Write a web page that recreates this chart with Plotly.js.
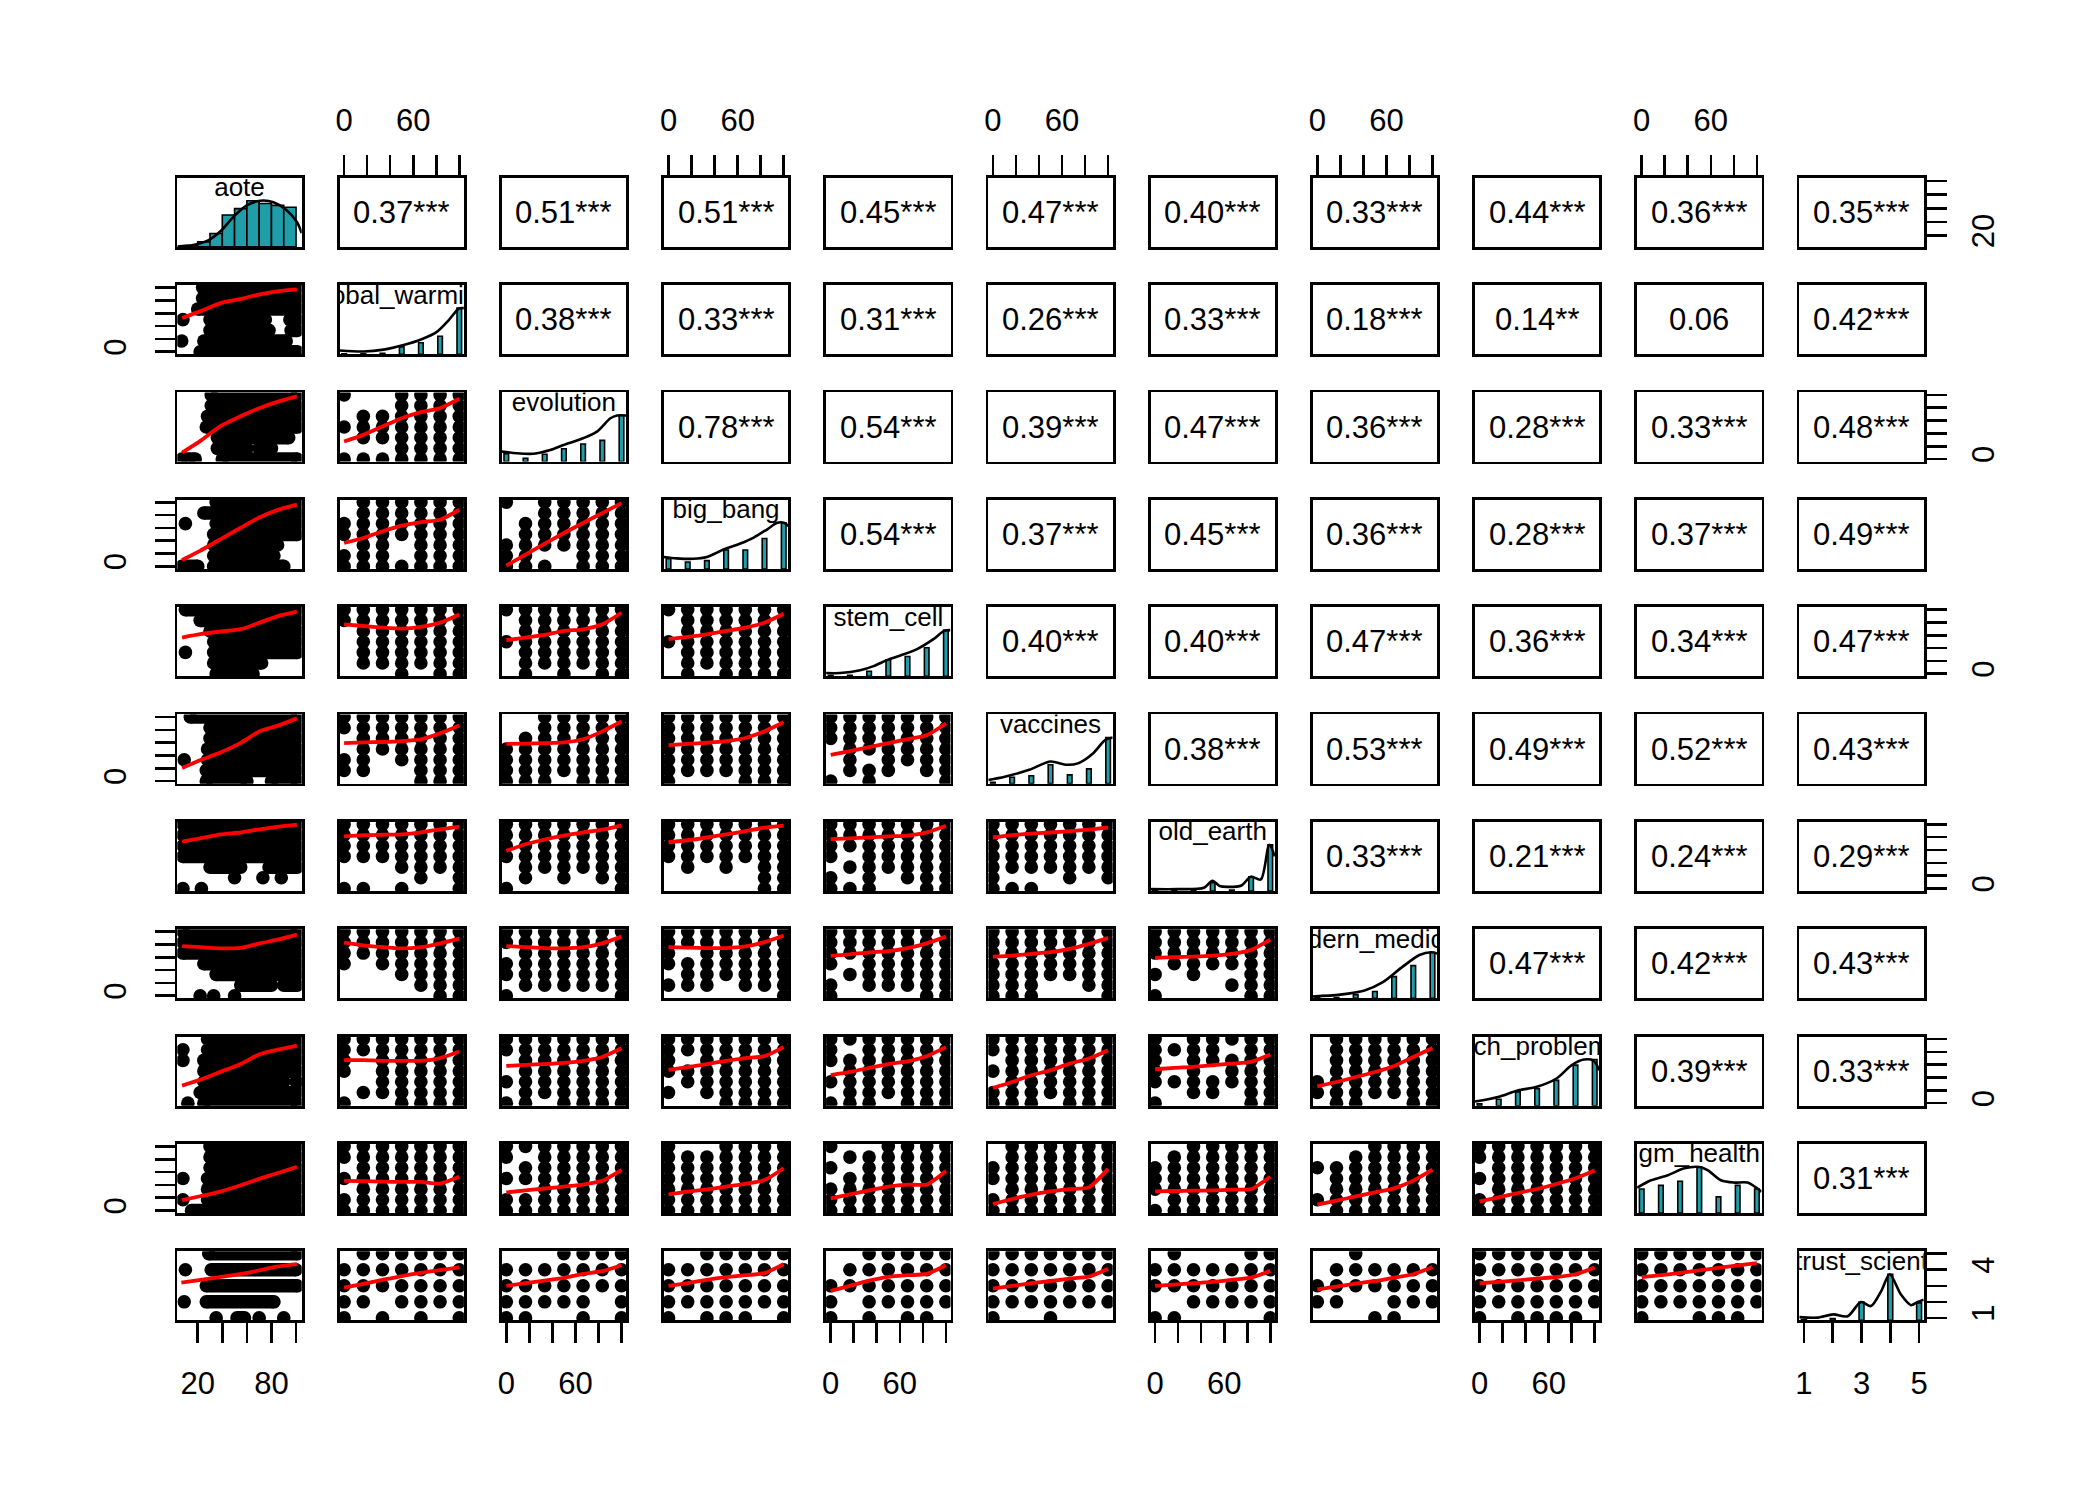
<!DOCTYPE html>
<html><head><meta charset="utf-8">
<script src="https://cdn.plot.ly/plotly-3.0.1.min.js"></script>
<style>html,body{margin:0;padding:0;background:#fff}</style>
</head><body><div id="chart" style="width:2100px;height:1500px"></div>
<script>
// ---------------- DATA ----------------
const varNames = ["aote","global_warming","evolution","big_bang","stem_cell","vaccines","old_earth","modern_medicine","tech_problems","gm_health","trust_scient"];
const levels7 = [0, 16.67, 33.33, 50, 66.67, 83.33, 100];
const levels5 = [1, 2, 3, 4, 5];
const rangeAote = [3.4, 104.6];
const range100 = [-4, 104];
const rangeTrust = [0.84, 5.16];

// tick values / labels
const ticksAote = [20, 40, 60, 80, 100];
const labelsAoteH = ["20", "", "", "80", ""];
const labelsAoteV = ["20", "", "", "", ""];
const ticks100 = [0, 20, 40, 60, 80, 100];
const labels100H = ["0", "", "", "60", "", ""];
const labels100V = ["0", "", "", "", "", ""];
const ticksTrust = [1, 2, 3, 4, 5];
const labelsTrustH = ["1", "", "3", "", "5"];
const labelsTrustV = ["1", "", "", "4", ""];

// correlations (upper triangle), per row
const cor_aote = ["0.37***","0.51***","0.51***","0.45***","0.47***","0.40***","0.33***","0.44***","0.36***","0.35***"];
const cor_global_warming = ["0.38***","0.33***","0.31***","0.26***","0.33***","0.18***","0.14**","0.06","0.42***"];
const cor_evolution = ["0.78***","0.54***","0.39***","0.47***","0.36***","0.28***","0.33***","0.48***"];
const cor_big_bang = ["0.54***","0.37***","0.45***","0.36***","0.28***","0.37***","0.49***"];
const cor_stem_cell = ["0.40***","0.40***","0.47***","0.36***","0.34***","0.47***"];
const cor_vaccines = ["0.38***","0.53***","0.49***","0.52***","0.43***"];
const cor_old_earth = ["0.33***","0.21***","0.24***","0.29***"];
const cor_modern_medicine = ["0.47***","0.42***","0.43***"];
const cor_tech_problems = ["0.39***","0.33***"];
const cor_gm_health = ["0.31***"];

// histograms (relative heights, max = 1) and density curves (relative, max = 1)
const histAote_x = [15, 25, 35, 45, 55, 65, 75, 85, 95];
const histAote_h = [0.03, 0.11, 0.29, 0.69, 0.83, 1.0, 0.94, 0.9, 0.86];
const densAote_x = [3.4, 16.3, 28.5, 39.4, 49, 59.9, 70.8, 81.6, 91.2, 100.7, 104.6];
const densAote_y = [0.01, 0.04, 0.14, 0.36, 0.65, 0.9, 1.0, 0.97, 0.82, 0.54, 0.3];

const hist_global_warming = [0.01, 0.01, 0.02, 0.16, 0.25, 0.39, 1.0];
const dens_global_warming_x = [-4, 16.9, 34.3, 51.7, 66.8, 80.8, 90.9, 99.6, 104];
const dens_global_warming_y = [0.08, 0.06, 0.1, 0.2, 0.32, 0.49, 0.74, 0.99, 1.0];
const hist_evolution = [0.17, 0.07, 0.16, 0.28, 0.38, 0.46, 1.0];
const dens_evolution_x = [-4, 9.1, 23.6, 38.1, 49.7, 67.1, 78.7, 90.4, 96.2, 104];
const dens_evolution_y = [0.22, 0.18, 0.17, 0.25, 0.36, 0.51, 0.65, 0.94, 1.0, 1.0];
const hist_big_bang = [0.22, 0.15, 0.18, 0.41, 0.41, 0.66, 1.0];
const dens_big_bang_x = [-4, 7.1, 21.6, 33.3, 47.8, 62.4, 74, 85.7, 94.4, 100.2, 104];
const dens_big_bang_y = [0.26, 0.23, 0.22, 0.26, 0.42, 0.55, 0.68, 0.86, 1.0, 1.0, 0.93];
const hist_stem_cell = [0.02, 0.02, 0.11, 0.36, 0.43, 0.62, 1.0];
const dens_stem_cell_x = [-4, 8.2, 25.6, 37.2, 48.8, 60.5, 75, 89.5, 98.2, 104];
const dens_stem_cell_y = [0.07, 0.07, 0.13, 0.22, 0.35, 0.45, 0.59, 0.81, 0.98, 1.0];
const hist_vaccines = [0.03, 0.14, 0.17, 0.41, 0.19, 0.32, 1.0];
const dens_vaccines_x = [-4, 10.3, 31.5, 50, 63.2, 73.8, 87.1, 97.6, 104];
const dens_vaccines_y = [0.08, 0.15, 0.3, 0.48, 0.41, 0.44, 0.66, 0.95, 1.0];
const hist_old_earth = [0.01, 0.01, 0.02, 0.18, 0.02, 0.31, 1.0];
const dens_old_earth_x = [-4, 20, 42.5, 49.7, 56, 62.8, 75, 83.1, 91.8, 99.1, 104];
const dens_old_earth_y = [0.04, 0.04, 0.07, 0.22, 0.11, 0.09, 0.12, 0.31, 0.25, 1.0, 0.75];
const hist_modern_medicine = [0.01, 0.02, 0.08, 0.15, 0.47, 0.71, 1.0];
const dens_modern_medicine_x = [-4, 19.8, 41, 56.9, 72.8, 88.6, 99.2, 104];
const dens_modern_medicine_y = [0.04, 0.08, 0.17, 0.35, 0.66, 0.94, 1.0, 0.97];
const hist_tech_problems = [0.04, 0.14, 0.3, 0.37, 0.55, 0.88, 1.0];
const dens_tech_problems_x = [-4, 16.2, 33.2, 49.7, 66.8, 80.1, 90.7, 98.7, 104];
const dens_tech_problems_y = [0.09, 0.19, 0.33, 0.41, 0.59, 0.88, 1.0, 0.98, 0.77];
const hist_gm_health = [0.52, 0.6, 0.69, 1.0, 0.35, 0.6, 0.52];
const dens_gm_health_x = [-4, 8.1, 22.6, 37, 50, 57.2, 68.8, 80.3, 91.9, 104];
const dens_gm_health_y = [0.55, 0.71, 0.82, 0.97, 1.0, 0.93, 0.71, 0.66, 0.66, 0.46];
const hist_trust_science = [0.02, 0.04, 0.4, 1.0, 0.38];
const dens_trust_science_x = [0.84, 1.48, 2.02, 2.52, 2.98, 3.33, 3.68, 3.98, 4.37, 4.72, 4.95, 5.16];
const dens_trust_science_y = [0.07, 0.06, 0.13, 0.09, 0.4, 0.31, 0.63, 1.0, 0.56, 0.33, 0.4, 0.45];

// aote column: occupied aote ranges per level (top level first)
const seg_global_warming = [[[24,101]],[[24,101]],[[20,101]],[[8,8],[30,75],[95,101]],[[30,78],[96,101]],[[7,7],[25,65],[70,92]],[[22,101]]];
const seg_evolution = [[[31,101]],[[31,101]],[[28,101]],[[27,101]],[[36,94]],[[36,60],[70,80]],[[7,18],[40,101]]];
const seg_big_bang = [[[35,101]],[[25,101]],[[10,10],[35,101]],[[33,101]],[[33,85]],[[33,82]],[[7,20],[33,90]]];
const seg_stem_cell = [[[10,101]],[[22,101]],[[30,101]],[[33,101]],[[10,10],[33,101]],[[33,72]],[[35,65]]];
const seg_vaccines = [[[14,101]],[[30,101]],[[30,101]],[[28,101]],[[9,9],[28,101]],[[27,101]],[[27,60],[80,101]]];
const seg_old_earth = [[[8,101]],[[8,101]],[[8,101]],[[8,101]],[[30,55],[78,101]],[[50,50],[73,73],[88,88]],[[8,8],[23,23]]];
const seg_modern_medicine = [[[8,101]],[[8,101]],[[8,101]],[[25,101]],[[35,101]],[[55,80],[90,101]],[[22,22],[33,33],[50,50]]];
const seg_tech_problems = [[[28,101]],[[8,8],[28,101]],[[8,8],[25,101]],[[25,101]],[[25,90],[100,101]],[[22,101]],[[12,12],[25,101]]];
const seg_gm_health = [[[30,101]],[[30,101]],[[30,101]],[[8,8],[28,101]],[[28,101]],[[8,8],[28,101]],[[15,30],[35,101]]];
const seg_trust_science = [[[29,101]],[[10,10],[31,100]],[[27,101]],[[9,9],[27,82]],[[35,35],[52,58],[70,70],[90,90]]];

// discrete panels: occupied cells (rows = y level from top, chars = x level from left)
const grid_evolution = [
  ["1001111","0001111","0111111","1111111","0111111","0001111","1111111"]];
const grid_big_bang = [
  ["0111111","0111111","1111111","1111111","0110111","1110111","1111111"],
  ["1011111","0011111","0111111","0111111","1111111","1100111","1110111"]];
const grid_stem_cell = [
  ["1111111","1111111","0111111","0111111","0111111","0111111","0001011"],
  ["1111111","0111111","0111111","1111111","0111111","0111111","0101011"],
  ["1111111","0111111","0111111","1111111","0111111","0111111","0101111"]];
const grid_vaccines = [
  ["1111111","1111111","0111111","0111111","1101111","1100111","0000111"],
  ["0011111","0011111","0111111","1111111","1111111","1111111","1110111"],
  ["1111111","1111111","1111111","1111111","1111111","1111111","1000111"],
  ["1111111","1111111","1111111","0111111","0101111","0111011","1010001"]];
const grid_old_earth = [
  ["1111111","1111111","1111111","1111111","0001111","0000101","1101001"],
  ["1111111","1111111","1111111","1111111","0111111","0101011","1000001"],
  ["1111111","1111111","1111111","1111111","0101011","0000011","0000011"],
  ["1111111","1111111","1111111","1011111","0111111","1010111","1110011"],
  ["1111111","1111111","1111111","1111111","1111111","1000101","1110000"]];
const grid_modern_medicine = [
  ["1111111","1111111","1111111","1011111","0001111","0000111","0000011"],
  ["1111111","1111111","0111111","1111111","1111111","0111111","1000001"],
  ["1111111","1111111","1011111","1111111","0111111","1110111","0000001"],
  ["1111111","1111111","1111111","1011111","0111111","1011111","1000011"],
  ["1111111","1111111","1111111","1111111","1111111","1110011","1110001"],
  ["1111111","1111111","1111111","0111111","1010011","0000111","1000011"]];
const grid_tech_problems = [
  ["1111111","1111111","1011111","1011111","0011111","0111111","1001111"],
  ["1111111","1111111","0111111","0111111","1111111","0111111","1101111"],
  ["1111111","1111111","1011111","1111111","0111111","1011111","0001111"],
  ["1111111","1011111","1111111","0111111","1111111","0111111","1110111"],
  ["1111111","1111111","0111111","1111111","0111111","1111111","1110111"],
  ["1011111","1111011","1011111","1010111","1111111","0011011","1000011"],
  ["0111111","0111111","0111111","0111111","1111111","1111111","0110011"]];
const grid_gm_health = [
  ["1111111","1111111","0111111","1111111","0111111","1111111","1111111"],
  ["1111111","1011111","0111111","1111111","0011111","1111111","1111111"],
  ["1001111","1111111","1111111","1111111","1111111","1111111","1111111"],
  ["1001111","0111111","1011111","0111111","1111111","1111111","1111111"],
  ["0111111","0111111","1111111","1111111","0111111","1111111","1111111"],
  ["0011111","0111111","1111111","1111111","1111111","0111111","1111111"],
  ["0001111","0011111","1111111","0111111","0111111","1111111","0111111"],
  ["1111111","1111111","0111111","1111111","0111111","1111111","1111111"]];
const grid_trust_science = [
  ["0111111","1111111","1111111","1101111","1010101"],
  ["0001111","1111111","1111111","1111101","1100101"],
  ["0011111","1111111","1111111","1111111","1011101"],
  ["0011111","0111111","1111111","1011111","1010110"],
  ["1111111","1111111","1111111","1111111","1001000"],
  ["0100011","1111111","1111111","0011111","1100001"],
  ["0010000","0111111","1111111","1100111","0001100"],
  ["1111111","1111111","1111111","1111111","1011110"],
  ["1111111","1111111","1111111","1111111","1001110"]];

// loess smooths
const loessAote_x = [7.3, 21.9, 38.5, 55, 70.5, 86, 100.7];
const loessAote_global_warming = [52.6, 62.9, 75.7, 82.4, 89.6, 94.7, 97.3];
const loessAote_evolution = [10, 28, 51.3, 66.8, 79.7, 90, 97.8];
const loessAote_big_bang = [9.9, 24.3, 42.3, 60.3, 76.7, 88.6, 96.3];
const loessAote_stem_cell = [56.5, 61.7, 65.8, 69.5, 79.8, 90.2, 96.8];
const loessAote_vaccines = [20.3, 32.4, 44.5, 59.7, 77.9, 87, 97.9];
const loessAote_old_earth = [73.1, 78.1, 84.3, 87.3, 92.3, 96.6, 99.7];
const loessAote_modern_medicine = [77.6, 75.8, 74, 74.6, 81.9, 88, 95.4];
const loessAote_tech_problems = [27.3, 36.5, 48.8, 61.1, 76.4, 83.8, 89.9];
const loessAote_gm_health = [16.1, 22.2, 29.5, 39.3, 49.7, 58.8, 68];
const loessAoteTrust_x = [6.7, 35.3, 62.6, 84.4, 100.7];
const loessAote_trust_science = [3.2, 3.51, 3.84, 4.19, 4.35];

const loess_evolution = [[27.3, 37.7, 50.8, 63.8, 73.2, 79.5, 94.1]];
const loess_big_bang = [[36.5, 44.3, 54.7, 63.5, 69.2, 72.8, 88.4],[1.2, 18.3, 35.5, 52.1, 67.7, 83.2, 98.8]];
const loess_stem_cell = [[77.1, 74.5, 72, 70.4, 73, 79.7, 92.6],[52.3, 56.5, 60.6, 66.8, 69.4, 77.1, 95.2],[53.9, 57.5, 61.6, 66.8, 72, 79.7, 93.7]];
const loess_vaccines = [[59.2, 60.4, 61, 62.3, 65.3, 74.5, 86.8],[58, 58.6, 59.2, 60.4, 65.3, 77.6, 93],[56.1, 58, 59.8, 62.3, 67.2, 77.6, 91.7],[40.8, 46.9, 53.1, 59.2, 65.3, 71.5, 89.9]];
const loess_old_earth = [[81.3, 83.1, 83.8, 84.4, 87.4, 92.3, 96.6],[58.6, 69, 76.4, 82.5, 87.4, 91.7, 98.5],[72.1, 75.2, 79.5, 84.4, 89.3, 94.8, 97.9],[77, 78.2, 79.5, 81.3, 82.5, 87.4, 97.9],[79.5, 83.1, 85.7, 87.3, 89.4, 91.9, 95.1]];
const loess_modern_medicine = [[83.1, 78.8, 75.8, 73.9, 75.8, 81.9, 89.3],[77.6, 75.8, 74.5, 73.9, 75.8, 81.9, 92.3],[75.8, 75.2, 74.5, 74.5, 77, 83.8, 94.2],[62.3, 64.7, 67.8, 69.6, 74.5, 81.9, 92.3],[61.2, 62.8, 65.4, 68, 73.2, 81, 90.4],[59.1, 60.2, 61.2, 62.8, 65.4, 71.7, 87.8]];
const loess_tech_problems = [[67.2, 67.2, 66, 66, 66, 70.3, 80.7],[58, 59.8, 61, 62.9, 66, 72.1, 85.6],[51.8, 56.1, 61, 66, 70.3, 73.3, 87.4],[43.9, 48.8, 54.9, 61, 65.3, 73.3, 87.4],[23.6, 33, 43.5, 51.3, 61.7, 69.6, 82.6],[52.9, 55, 56.6, 59.2, 61.7, 64.4, 75.8],[26.2, 33, 40.8, 48.6, 58, 72.1, 86.2]];
const loess_gm_health = [[46.3, 45.8, 45.1, 44.5, 44.5, 42, 52.5],[28.2, 31.3, 34.3, 37.4, 40.5, 46.3, 63.5],[25.2, 29.5, 32.9, 37.4, 41.6, 47.5, 66],[19, 25.2, 31.3, 37.4, 40.5, 40.5, 61.7],[10.1, 17.9, 24.7, 29.9, 33.5, 36.1, 64.9],[29.9, 30.4, 30.9, 31.4, 32.5, 33.5, 52.8],[9.1, 15.3, 22.1, 28.4, 34.6, 46.6, 63.8],[14.3, 20.5, 27.3, 33.5, 41.4, 50.2, 62.3]];
const loess_trust_science = [[2.88, 3.12, 3.37, 3.61, 3.81, 3.98, 4.15],[3.0, 3.17, 3.32, 3.49, 3.74, 3.91, 4.28],[3.0, 3.17, 3.37, 3.54, 3.66, 3.79, 4.35],[2.68, 3.0, 3.32, 3.56, 3.66, 3.74, 4.28],[2.82, 2.99, 3.16, 3.3, 3.45, 3.57, 4.07],[2.99, 3.07, 3.16, 3.24, 3.37, 3.51, 3.93],[2.78, 2.95, 3.14, 3.3, 3.51, 3.72, 4.18],[3.16, 3.24, 3.34, 3.45, 3.55, 3.72, 4.14],[3.54, 3.66, 3.81, 3.96, 4.12, 4.27, 4.41]];

// ---------------- ASSEMBLY ----------------
const N = varNames.length;
const ranges = varNames.map((v, i) => i === 0 ? rangeAote : (i === N - 1 ? rangeTrust : range100));
const corRows = [cor_aote, cor_global_warming, cor_evolution, cor_big_bang, cor_stem_cell, cor_vaccines, cor_old_earth, cor_modern_medicine, cor_tech_problems, cor_gm_health, []];
const histRows = [null, hist_global_warming, hist_evolution, hist_big_bang, hist_stem_cell, hist_vaccines, hist_old_earth, hist_modern_medicine, hist_tech_problems, hist_gm_health, hist_trust_science];
const densX = [densAote_x, dens_global_warming_x, dens_evolution_x, dens_big_bang_x, dens_stem_cell_x, dens_vaccines_x, dens_old_earth_x, dens_modern_medicine_x, dens_tech_problems_x, dens_gm_health_x, dens_trust_science_x];
const densY = [densAote_y, dens_global_warming_y, dens_evolution_y, dens_big_bang_y, dens_stem_cell_y, dens_vaccines_y, dens_old_earth_y, dens_modern_medicine_y, dens_tech_problems_y, dens_gm_health_y, dens_trust_science_y];
const segRows = [null, seg_global_warming, seg_evolution, seg_big_bang, seg_stem_cell, seg_vaccines, seg_old_earth, seg_modern_medicine, seg_tech_problems, seg_gm_health, seg_trust_science];
const gridRows = [null, [], grid_evolution, grid_big_bang, grid_stem_cell, grid_vaccines, grid_old_earth, grid_modern_medicine, grid_tech_problems, grid_gm_health, grid_trust_science];
const loessAoteRows = [null, loessAote_global_warming, loessAote_evolution, loessAote_big_bang, loessAote_stem_cell, loessAote_vaccines, loessAote_old_earth, loessAote_modern_medicine, loessAote_tech_problems, loessAote_gm_health, loessAote_trust_science];
const loessRows = [null, [], loess_evolution, loess_big_bang, loess_stem_cell, loess_vaccines, loess_old_earth, loess_modern_medicine, loess_tech_problems, loess_gm_health, loess_trust_science];

const FW = 2100, FH = 1500;
const PX0 = 177.3, PDX = 162.2, PW = 124.4;
const PY0 = 177.7, PDY = 107.35, PH = 69.2;
const FONT = '"Liberation Sans", Arial, Helvetica, sans-serif';
const TEAL = '#1F9EA9';
const DOT = 13.6;
const RED_W = 3.8;

const axKey = (p, i) => p + 'axis' + (i === 1 ? '' : i);
const axRef = (p, i) => p + (i === 1 ? '' : i);
const standoff = {top: 12, bottom: 14, left: 16, right: 10};

function tickCfg(v, side) {
  const vert = (side === 'left' || side === 'right');
  let vals, text;
  if (v === 0) { vals = ticksAote; text = vert ? labelsAoteV : labelsAoteH; }
  else if (v === N - 1) { vals = ticksTrust; text = vert ? labelsTrustV : labelsTrustH; }
  else { vals = ticks100; text = vert ? labels100V : labels100H; }
  return {
    side: side, ticks: 'outside', ticklen: 20, tickwidth: 2.6, tickcolor: '#000',
    showticklabels: true, tickmode: 'array', tickvals: vals, ticktext: text,
    tickfont: {size: 31, family: FONT, color: '#000'},
    tickangle: vert ? -90 : 0,
    ticklabelstandoff: standoff[side]
  };
}

const axBase = {showline: true, mirror: true, linewidth: 2.8, linecolor: '#000', showgrid: false,
  zeroline: false, fixedrange: true, ticks: '', showticklabels: false, automargin: false};

const layout = {width: FW, height: FH, margin: {l: 0, r: 0, t: 0, b: 0}, paper_bgcolor: '#fff',
  plot_bgcolor: '#fff', showlegend: false, annotations: [], bargap: 0,
  font: {family: FONT, color: '#000'}};
const traces = [];

for (let r = 0; r < N; r++) {
  for (let c = 0; c < N; c++) {
    const i = r * N + c + 1;
    const x0 = PX0 + c * PDX, y0 = PY0 + r * PDY;
    const xa = Object.assign({}, axBase, {domain: [x0 / FW, (x0 + PW) / FW], range: ranges[c], anchor: axRef('y', i)});
    const ya = Object.assign({}, axBase, {domain: [1 - (y0 + PH) / FH, 1 - y0 / FH], range: ranges[r], anchor: axRef('x', i)});
    if (r === 0 && c % 2 === 1) Object.assign(xa, tickCfg(c, 'top'));
    if (r === N - 1 && c % 2 === 0) Object.assign(xa, tickCfg(c, 'bottom'));
    if (c === 0 && r % 2 === 1) Object.assign(ya, tickCfg(r, 'left'));
    if (c === N - 1 && r % 2 === 0) Object.assign(ya, tickCfg(r, 'right'));
    layout[axKey('x', i)] = xa;
    layout[axKey('y', i)] = ya;
    const xr = axRef('x', i), yr = axRef('y', i);
    const [xlo, xhi] = ranges[c];
    const [ylo, yhi] = ranges[r];

    if (r === c) {
      const yS = v => ylo + v / 1.5 * (yhi - ylo);
      let bx, bh, bw;
      if (r === 0) { bx = histAote_x; bh = histAote_h; bw = 10; }
      else if (r === N - 1) { bx = levels5; bh = histRows[r]; bw = 0.17; }
      else { bx = levels7; bh = histRows[r]; bw = 4; }
      traces.push({type: 'bar', x: bx, y: bh.map(h => h / 1.5 * (yhi - ylo)), base: bh.map(() => ylo),
        width: bx.map(() => bw), marker: {color: TEAL, line: {color: '#000', width: 1.6}},
        xaxis: xr, yaxis: yr, hoverinfo: 'skip'});
      traces.push({type: 'scatter', mode: 'lines', x: densX[r], y: densY[r].map(yS),
        line: {color: '#000', width: 2.6, shape: 'spline', smoothing: 0.8}, cliponaxis: true,
        xaxis: xr, yaxis: yr, hoverinfo: 'skip'});
      traces.push({type: 'scatter', mode: 'text', x: [(xlo + xhi) / 2], y: [yS(1.24)], text: [varNames[r]],
        textposition: 'middle center', textfont: {size: 26, family: FONT, color: '#000'}, cliponaxis: true,
        xaxis: xr, yaxis: yr, hoverinfo: 'skip'});
    } else if (r < c) {
      layout.annotations.push({xref: xr, yref: yr, x: (xlo + xhi) / 2, y: (ylo + yhi) / 2,
        text: corRows[r][c - r - 1], showarrow: false, xanchor: 'center', yanchor: 'middle',
        font: {size: 31, family: FONT, color: '#000'}});
    } else {
      const yl = (r === N - 1 ? levels5 : levels7).slice().reverse();
      if (c === 0) {
        const sx = [], sy = [];
        segRows[r].forEach((segs, k) => {
          segs.forEach(s => {
            if (s[0] === s[1]) { sx.push(s[0], null); sy.push(yl[k], null); }
            else { sx.push(s[0], s[1], null); sy.push(yl[k], yl[k], null); }
          });
        });
        traces.push({type: 'scatter', mode: 'lines+markers', x: sx, y: sy,
          line: {color: '#000', width: DOT}, marker: {color: '#000', size: DOT},
          cliponaxis: true, connectgaps: false, xaxis: xr, yaxis: yr, hoverinfo: 'skip'});
        traces.push({type: 'scatter', mode: 'lines', x: r === N - 1 ? loessAoteTrust_x : loessAote_x, y: loessAoteRows[r],
          line: {color: '#FF0000', width: RED_W, shape: 'spline', smoothing: 0.6}, cliponaxis: true,
          xaxis: xr, yaxis: yr, hoverinfo: 'skip'});
      } else {
        const g = gridRows[r][c - 1];
        const px = [], py = [];
        g.forEach((row, k) => {
          for (let j = 0; j < row.length; j++) {
            if (row[j] === '1') { px.push(levels7[j]); py.push(yl[k]); }
          }
        });
        traces.push({type: 'scatter', mode: 'markers', x: px, y: py,
          marker: {color: '#000', size: DOT}, cliponaxis: true, xaxis: xr, yaxis: yr, hoverinfo: 'skip'});
        traces.push({type: 'scatter', mode: 'lines', x: levels7, y: loessRows[r][c - 1],
          line: {color: '#FF0000', width: RED_W, shape: 'spline', smoothing: 0.6}, cliponaxis: true,
          xaxis: xr, yaxis: yr, hoverinfo: 'skip'});
      }
    }
  }
}

Plotly.newPlot('chart', traces, layout, {staticPlot: true, displayModeBar: false});
</script>
</body></html>
